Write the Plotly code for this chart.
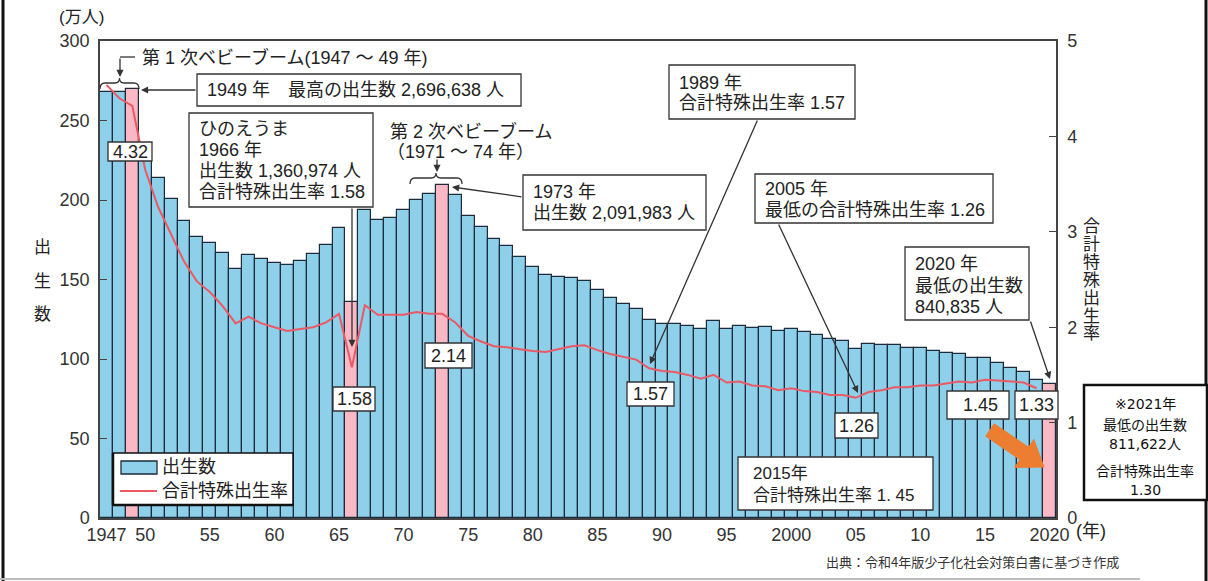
import plotly.graph_objects as go
import math

# ---------------- data ----------------
years = list(range(1947, 2021))
births = [267.9, 268.2, 269.7, 233.8, 213.8, 200.5, 186.8, 177.0, 173.1, 166.5,
          156.7, 165.3, 162.6, 160.6, 158.9, 161.9, 166.0, 171.7, 182.4, 136.1,
          193.6, 187.2, 188.9, 193.4, 200.1, 203.9, 209.2, 203.0, 190.1, 183.3,
          175.5, 170.9, 164.3, 157.7, 152.9, 151.5, 150.9, 149.0, 143.2, 138.3,
          134.7, 131.4, 124.7, 122.2, 122.3, 120.9, 118.8, 123.8, 118.7, 120.7,
          119.2, 120.3, 117.8, 119.1, 117.1, 115.4, 112.4, 111.1, 106.3, 109.3,
          109.0, 109.1, 107.0, 107.1, 105.1, 103.7, 103.0, 100.4, 100.6, 97.7,
          94.6, 91.8, 86.5, 84.1]
tfr = [4.54, 4.40, 4.32, 3.65, 3.26, 2.98, 2.69, 2.48, 2.37, 2.22,
       2.04, 2.11, 2.04, 2.00, 1.96, 1.98, 2.00, 2.05, 2.14, 1.58,
       2.23, 2.13, 2.13, 2.13, 2.16, 2.14, 2.14, 2.05, 1.91, 1.85,
       1.80, 1.79, 1.77, 1.75, 1.74, 1.77, 1.80, 1.81, 1.76, 1.72,
       1.69, 1.66, 1.57, 1.54, 1.53, 1.50, 1.46, 1.50, 1.42, 1.43,
       1.39, 1.38, 1.34, 1.36, 1.33, 1.32, 1.29, 1.29, 1.26, 1.32,
       1.34, 1.37, 1.37, 1.39, 1.39, 1.41, 1.43, 1.42, 1.45, 1.44,
       1.43, 1.42, 1.36, None]
highlight_years = [1949, 1966, 1973, 2020]
tick_years = [1947, 1950, 1955, 1960, 1965, 1970, 1975, 1980, 1985, 1990,
              1995, 2000, 2005, 2010, 2015, 2020]
tick_text = ["1947", "50", "55", "60", "65", "70", "75", "80", "85", "90",
             "95", "2000", "05", "10", "15", "2020"]

# ---------------- style ----------------
W, H = 1208, 581
L, R, T, B = 100, 1056, 41, 518
FONT = "Liberation Sans, Noto Sans CJK JP"
CJK = "Noto Sans CJK JP"
WIDE = "DejaVu Sans, Noto Sans CJK JP"
BLUE = "#8ECFEA"
PINK = "#F9B8C3"
EDGE = "#1E2B3A"
RED = "#EB5A64"
TXT = "#222222"
BOX = "#333333"


def PX(x):
    return (x - L) / (R - L)


def PY(y):
    return (B - y) / (B - T)


def P(x, y):
    return f"{PX(x):.5f},{PY(y):.5f}"


fig = go.Figure()
fig.add_trace(go.Bar(
    x=years, y=births, name="出生数",
    marker=dict(color=[PINK if yv in highlight_years else BLUE for yv in years],
                line=dict(color=EDGE, width=1.2)),
    showlegend=False,
))
fig.add_trace(go.Scatter(
    x=years, y=tfr, name="合計特殊出生率", yaxis="y2", mode="lines",
    line=dict(color=RED, width=2), showlegend=False, connectgaps=False,
))

shapes = []
annots = []


def rect(x0, y0, x1, y1, color=BOX, width=1.3, fill="white"):
    shapes.append(dict(type="rect", xref="paper", yref="paper",
                       x0=PX(x0), x1=PX(x1), y0=PY(y1), y1=PY(y0),
                       line=dict(color=color, width=width), fillcolor=fill,
                       layer="above"))


def line(x0, y0, x1, y1, color=BOX, width=1.3):
    shapes.append(dict(type="line", xref="paper", yref="paper",
                       x0=PX(x0), x1=PX(x1), y0=PY(y0), y1=PY(y1),
                       line=dict(color=color, width=width), layer="above"))


def path(d, color=BOX, width=1.3, fill=None):
    s = dict(type="path", xref="paper", yref="paper", path=d,
             line=dict(color=color, width=width), layer="above")
    if fill:
        s["fillcolor"] = fill
    shapes.append(s)


def txt(x, y, s, size=18, xanchor="left", family=FONT, color=TXT, align="left"):
    annots.append(dict(x=PX(x), y=PY(y), xref="paper", yref="paper", text=s,
                       showarrow=False, xanchor=xanchor, yanchor="middle",
                       align=align,
                       font=dict(family=family, size=size, color=color)))


def arrow(x0, y0, x1, y1, color=BOX, width=1.3):
    annots.append(dict(x=PX(x1), y=PY(y1), xref="paper", yref="paper",
                       ax=x0 - x1, ay=y0 - y1, text="", showarrow=True,
                       arrowhead=2, arrowsize=1.1, arrowwidth=width,
                       arrowcolor=color, standoff=0, startstandoff=0))


# outer frame
line(3, 0, 3, 581, color="#111111", width=3)
line(1206, 0, 1206, 581, color="#111111", width=3)
line(0, 579, 1140, 579, color="#BBBBBB", width=2)

# first baby boom
txt(140, 57, "第 1 次ベビーブーム(1947 ～ 49 年)", size=18)
line(120, 57, 135, 57)
arrow(120, 57, 120, 77)
path("M " + P(100, 89) + " Q " + P(100, 83) + " " + P(105, 83) + " L " + P(115, 83)
     + " Q " + P(119.5, 83) + " " + P(119.5, 78) + " Q " + P(119.5, 83) + " " + P(124, 83)
     + " L " + P(134, 83) + " Q " + P(139, 83) + " " + P(139, 89))

# 1949 box
rect(197, 74, 521, 106)
txt(205, 90, "1949 年　最高の出生数 2,696,638 人")
arrow(197, 90, 141, 90)

# 4.32
rect(108, 142, 152, 161)
txt(130, 151.5, "4.32", xanchor="center")

# hinoeuma box
rect(189, 113, 373, 207)
for yy, s in zip([129, 150, 171, 192],
                 ["ひのえうま", "1966 年", "出生数 1,360,974 人", "合計特殊出生率 1.58"]):
    txt(197, yy, s)
arrow(352, 207, 352, 347)
rect(333, 387, 375, 411)
txt(354, 399, "1.58", xanchor="center")

# second baby boom
txt(388, 131, "第 2 次ベビーブーム")
txt(385, 152, "（1971 ～ 74 年）")
arrow(437, 158, 437, 172)
path("M " + P(410, 184) + " Q " + P(410, 178) + " " + P(415, 178) + " L " + P(431, 178)
     + " Q " + P(436, 178) + " " + P(436, 173) + " Q " + P(436, 178) + " " + P(441, 178)
     + " L " + P(457, 178) + " Q " + P(462, 178) + " " + P(462, 184))

# 1973 box
rect(523, 175, 706, 230)
txt(531, 192, "1973 年")
txt(531, 213, "出生数 2,091,983 人")
arrow(523, 197, 452, 187)
rect(425, 343, 472, 368)
txt(448.5, 355.5, "2.14", xanchor="center")

# 1989 box
rect(669, 65, 855, 119)
txt(677, 83, "1989 年")
txt(677, 103, "合計特殊出生率 1.57")
arrow(758, 119, 650, 364)
rect(627, 382, 674, 406)
txt(650.5, 394, "1.57", xanchor="center")

# 2005 box
rect(755, 174, 993, 223)
txt(763, 189, "2005 年")
txt(763, 210, "最低の合計特殊出生率 1.26")
arrow(778, 223, 858, 393)
rect(835, 413, 878, 438)
txt(856.5, 425.5, "1.26", xanchor="center")

# 2015 box
rect(738, 457, 933, 510)
txt(751, 473, "2015年", size=17)
txt(751, 495, "合計特殊出生率 1. 45", size=17)
rect(947, 391, 1009, 419)
txt(980, 405, "1.45", xanchor="center")
rect(1015, 391, 1058, 419)
txt(1036.5, 405, "1.33", xanchor="center")

# 2020 box
rect(905, 247, 1029, 320)
txt(913, 264, "2020 年")
txt(913, 286, "最低の出生数")
txt(913, 307, "840,835 人")
arrow(1030, 320, 1050, 379)

# 2021 box
rect(1084, 385, 1207, 500, color="#111111", width=2.5)
for yy, s in zip([404, 425, 444, 471, 490],
                 ["※2021年", "最低の出生数", "811,622人", "合計特殊出生率", "1.30"]):
    txt(1145, yy, s, size=14, xanchor="center", family=WIDE, color="#111111",
        align="center")

# orange block arrow
tx, ty, hx, hy = 990, 430, 1044, 467
ln = math.hypot(hx - tx, hy - ty)
ux, uy = (hx - tx) / ln, (hy - ty) / ln
px_, py_ = -uy, ux
bx, by = hx - 24 * ux, hy - 24 * uy
sw, hw = 7.5, 17
pts = [(tx + sw * px_, ty + sw * py_), (bx + sw * px_, by + sw * py_),
       (bx + hw * px_, by + hw * py_), (hx, hy),
       (bx - hw * px_, by - hw * py_), (bx - sw * px_, by - sw * py_),
       (tx - sw * px_, ty - sw * py_)]
path("M " + " L ".join(P(a, b) for a, b in pts) + " Z", color="#ED7D31", width=1,
     fill="#ED7D31")

# legend
rect(113, 453, 293, 505, color="#111111", width=1.5)
line(113, 453, 113, 505, color="#111111", width=2.5)
line(113, 505, 293, 505, color="#111111", width=2.5)
shapes.append(dict(type="rect", xref="paper", yref="paper",
                   x0=PX(121), x1=PX(157), y0=PY(474), y1=PY(461),
                   line=dict(color=EDGE, width=1.3), fillcolor=BLUE, layer="above"))
line(120, 491, 157, 491, color=RED, width=2)
txt(160, 467, "出生数")
txt(160, 491, "合計特殊出生率")

# axis titles and units
txt(57, 17, "(万人)", size=17)
for yy, s in zip([247, 281, 314], ["出", "生", "数"]):
    txt(42, yy, s, size=17, xanchor="center")
for i, s in enumerate("合計特殊出生率"):
    txt(1091, 226 + 18 * i, s, size=17, xanchor="center")
txt(1074, 531, "(年)", size=18)

# source
txt(972, 561, "出典：令和4年版少子化社会対策白書に基づき作成", size=13,
    xanchor="center", family=CJK, color="#333333")

fig.update_layout(
    width=W, height=H,
    margin=dict(l=L, r=W - R, t=T, b=H - B, pad=0),
    paper_bgcolor="white", plot_bgcolor="white",
    bargap=0, showlegend=False,
    font=dict(family=FONT, size=18, color="#333333"),
    xaxis=dict(range=[1946.5, 2020.5], tickvals=tick_years, ticktext=tick_text,
               ticks="", showgrid=False, zeroline=False, showline=True,
               linecolor="#444444", linewidth=1.5, mirror=True,
               tickfont=dict(family=FONT, size=18, color="#333333")),
    yaxis=dict(range=[0, 300], tickvals=[0, 50, 100, 150, 200, 250, 300],
               ticks="inside", ticklen=7, tickcolor="#444444", tickwidth=1.3,
               showgrid=False, zeroline=False, showline=True,
               linecolor="#444444", linewidth=1.5, ticklabelstandoff=5,
               tickfont=dict(family=FONT, size=18, color="#333333")),
    yaxis2=dict(range=[0, 5], tickvals=[0, 1, 2, 3, 4, 5], overlaying="y",
                side="right", ticks="inside", ticklen=7, tickcolor="#444444",
                tickwidth=1.3, showgrid=False, zeroline=False, showline=True,
                linecolor="#444444", linewidth=1.5, ticklabelstandoff=6,
                tickfont=dict(family=FONT, size=18, color="#333333")),
    shapes=shapes, annotations=annots,
)

fig.write_html("out.html",
               config={"displayModeBar": False},
               post_script="document.body.style.margin='0';"
                           "document.body.style.overflow='hidden';")
